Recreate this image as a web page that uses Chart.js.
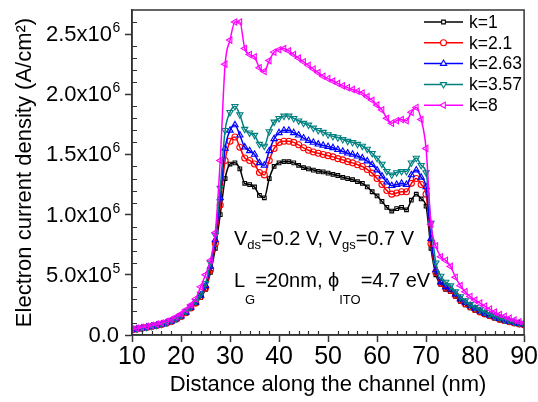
<!DOCTYPE html>
<html>
<head>
<meta charset="utf-8">
<script src="https://cdn.jsdelivr.net/npm/chart.js@4.4.0/dist/chart.umd.min.js"></script>
<style>
body { margin: 0; background: #fff; }
</style>
</head>
<body>
<canvas id="chart" width="538" height="402"></canvas>
<script>
// distance along the channel (nm)
const distance = [10, 11, 12, 13, 14, 15, 16, 17, 18, 19, 20, 21, 22, 23, 24, 25, 26, 27, 28, 29,
    30, 31, 32, 33, 34, 35, 36, 37, 38, 39, 40, 41, 42, 43, 44, 45, 46, 47, 48, 49,
    50, 51, 52, 53, 54, 55, 56, 57, 58, 59, 60, 61, 62, 63, 64, 65, 66, 67, 68, 69,
    70, 71, 72, 73, 74, 75, 76, 77, 78, 79, 80, 81, 82, 83, 84, 85, 86, 87, 88, 89, 90]

// electron current density, in units of 10^6 A/cm^2
const k1 = [0.04, 0.047, 0.054, 0.061, 0.068, 0.076, 0.085, 0.096, 0.11, 0.128, 0.15, 0.18, 0.22, 0.26, 0.31, 0.38, 0.52, 0.72, 1.0,
    1.30, 1.42, 1.43, 1.38, 1.26, 1.25, 1.23, 1.16, 1.14, 1.30, 1.40, 1.43, 1.44, 1.44, 1.43, 1.41, 1.39, 1.38, 1.37, 1.36, 1.355,
    1.345, 1.335, 1.325, 1.31, 1.30, 1.29, 1.275, 1.26, 1.23, 1.19, 1.155, 1.11, 1.06, 1.03, 1.05, 1.06, 1.04, 1.12, 1.17, 1.13, 1.07,
    0.72, 0.50, 0.42, 0.38, 0.36, 0.32, 0.28, 0.25, 0.225, 0.205, 0.185, 0.17, 0.155, 0.14, 0.125, 0.115, 0.105, 0.095, 0.088, 0.08]
const k21 = [0.042, 0.049, 0.056, 0.063, 0.07, 0.078, 0.087, 0.098, 0.112, 0.131, 0.154, 0.185, 0.225, 0.265, 0.32, 0.39, 0.54, 0.76, 1.08,
    1.45, 1.61, 1.645, 1.56, 1.47, 1.45, 1.42, 1.35, 1.33, 1.45, 1.55, 1.60, 1.61, 1.61, 1.60, 1.58, 1.555, 1.535, 1.52, 1.51, 1.50,
    1.49, 1.48, 1.465, 1.455, 1.44, 1.43, 1.415, 1.40, 1.375, 1.345, 1.30, 1.25, 1.20, 1.17, 1.18, 1.19, 1.19, 1.26, 1.30, 1.25, 1.17,
    0.76, 0.52, 0.43, 0.39, 0.37, 0.33, 0.29, 0.26, 0.235, 0.212, 0.192, 0.175, 0.16, 0.145, 0.13, 0.12, 0.11, 0.10, 0.092, 0.085]
const k263 = [0.043, 0.05, 0.057, 0.064, 0.071, 0.079, 0.088, 0.10, 0.114, 0.133, 0.157, 0.188, 0.23, 0.27, 0.33, 0.41, 0.57, 0.79, 1.14,
    1.55, 1.70, 1.745, 1.66, 1.56, 1.53, 1.50, 1.43, 1.41, 1.53, 1.63, 1.68, 1.70, 1.70, 1.68, 1.66, 1.635, 1.615, 1.60, 1.585, 1.575,
    1.565, 1.555, 1.54, 1.525, 1.51, 1.50, 1.485, 1.47, 1.445, 1.415, 1.37, 1.32, 1.27, 1.24, 1.25, 1.26, 1.25, 1.33, 1.37, 1.31, 1.23,
    0.80, 0.54, 0.44, 0.40, 0.38, 0.34, 0.30, 0.27, 0.245, 0.22, 0.20, 0.18, 0.165, 0.15, 0.135, 0.123, 0.113, 0.103, 0.095, 0.088]
const k357 = [0.045, 0.052, 0.059, 0.066, 0.073, 0.082, 0.091, 0.103, 0.118, 0.137, 0.162, 0.195, 0.235, 0.28, 0.34, 0.43, 0.60, 0.83, 1.22,
    1.70, 1.85, 1.90, 1.83, 1.71, 1.68, 1.66, 1.585, 1.57, 1.69, 1.77, 1.80, 1.82, 1.82, 1.80, 1.78, 1.76, 1.745, 1.72, 1.70, 1.685,
    1.665, 1.65, 1.64, 1.625, 1.61, 1.60, 1.585, 1.57, 1.545, 1.51, 1.47, 1.42, 1.36, 1.33, 1.35, 1.36, 1.36, 1.43, 1.47, 1.41, 1.35,
    0.93, 0.60, 0.49, 0.44, 0.41, 0.36, 0.32, 0.285, 0.255, 0.23, 0.21, 0.19, 0.172, 0.155, 0.14, 0.128, 0.117, 0.107, 0.098, 0.09]
const k8 = [0.05, 0.057, 0.064, 0.072, 0.08, 0.09, 0.10, 0.113, 0.13, 0.15, 0.175, 0.21, 0.25, 0.30, 0.40, 0.50, 0.62, 0.85, 1.45,
    2.25, 2.45, 2.60, 2.60, 2.38, 2.33, 2.31, 2.22, 2.19, 2.28, 2.35, 2.37, 2.38, 2.36, 2.33, 2.30, 2.27, 2.24, 2.21, 2.18, 2.15,
    2.13, 2.11, 2.09, 2.07, 2.055, 2.04, 2.025, 2.01, 1.98, 1.95, 1.91, 1.87, 1.80, 1.76, 1.78, 1.79, 1.78, 1.85, 1.89, 1.79, 1.55,
    0.92, 0.74, 0.65, 0.62, 0.57, 0.48, 0.41, 0.36, 0.32, 0.29, 0.265, 0.24, 0.215, 0.19, 0.17, 0.155, 0.14, 0.125, 0.11, 0.10]

const seriesNames = ['k=1', 'k=2.1', 'k=2.63', 'k=3.57', 'k=8']
const seriesData = [k1, k21, k263, k357, k8]
const colors = ['#000000', '#ff0000', '#0000ff', '#008080', '#ff00ff']
const markers = ['rect', 'circle', 'triangle', 'triangle', 'triangle']
const markerRotation = [0, 0, 0, 180, 270]
const markerRadius = [2.6, 3, 3.6, 3.6, 3.6]

const xTicks = [10, 20, 30, 40, 50, 60, 70, 80, 90]
const yTicks = [0, 0.5, 1.0, 1.5, 2.0, 2.5]
const yTickText = ['0.0', '5.0x10', '1.0x10', '1.5x10', '2.0x10', '2.5x10']
const yTickExp = ['', '5', '6', '6', '6', '6']

const font = '"Liberation Sans", Arial, sans-serif'
const axisColor = '#333'

const datasets = seriesData.map((values, i) => ({
    label: seriesNames[i],
    data: values.map((v, j) => ({ x: distance[j], y: v })),
    borderColor: colors[i],
    backgroundColor: '#ffffff',
    borderWidth: 1.5,
    pointStyle: markers[i],
    rotation: markerRotation[i],
    pointRadius: markerRadius[i],
    pointBorderWidth: 1.1,
    pointBorderColor: colors[i],
    pointBackgroundColor: 'rgba(255,255,255,0)',
    tension: 0.4,
    cubicInterpolationMode: 'monotone',
    order: 5 - i
}))

const drawRuns = (ctx, runs, x, y) => {
    runs.forEach(run => {
        ctx.font = run.sub ? '13px ' + font : '20px ' + font
        ctx.fillText(run.t, x, y + (run.sub || 0))
        x += ctx.measureText(run.t).width
    })
}

const extras = {
    id: 'extras',
    afterDraw (chart) {
        const { ctx, chartArea: a, scales: { x, y } } = chart
        ctx.save()
        ctx.strokeStyle = axisColor
        ctx.lineWidth = 1.5
        ctx.strokeRect(a.left, a.top, a.right - a.left, a.bottom - a.top)

        // minor ticks, inward
        ctx.lineWidth = 1.2
        ctx.beginPath()
        for (let v = 12; v < 90; v += 2) {
            if (v % 10 === 0) continue
            const px = Math.round(x.getPixelForValue(v)) + 0.5
            ctx.moveTo(px, a.bottom)
            ctx.lineTo(px, a.bottom - 4)
        }
        for (let v = 1; v < 27; v++) {
            if (v % 5 === 0) continue
            const py = Math.round(y.getPixelForValue(v / 10)) + 0.5
            ctx.moveTo(a.left, py)
            ctx.lineTo(a.left + 5, py)
        }
        ctx.stroke()

        // y tick labels with exponents
        ctx.fillStyle = '#000'
        ctx.textBaseline = 'alphabetic'
        yTicks.forEach((v, i) => {
            const py = y.getPixelForValue(v)
            if (yTickExp[i]) {
                ctx.font = '22px ' + font
                ctx.textAlign = 'right'
                ctx.fillText(yTickText[i], 112, py + 7)
                ctx.font = '14px ' + font
                ctx.textAlign = 'left'
                ctx.fillText(yTickExp[i], 112.5, py - 2)
            } else {
                ctx.font = '22px ' + font
                ctx.textAlign = 'right'
                ctx.fillText(yTickText[i], 119, py + 7)
            }
        })

        // legend
        ctx.textAlign = 'left'
        ctx.textBaseline = 'middle'
        chart.data.datasets.forEach((ds, i) => {
            const ly = 22 + i * 20.8
            ctx.strokeStyle = ds.borderColor
            ctx.lineWidth = 1.5
            ctx.beginPath()
            ctx.moveTo(424, ly)
            ctx.lineTo(463, ly)
            ctx.stroke()
            ctx.fillStyle = '#fff'
            ctx.lineWidth = 1.1
            Chart.helpers.drawPoint(ctx, {
                pointStyle: ds.pointStyle, radius: ds.pointRadius, rotation: ds.rotation, borderWidth: 1.1
            }, 443.5, ly)
            ctx.fillStyle = '#000'
            ctx.font = '17.5px ' + font
            ctx.fillText(ds.label, 469, ly + 1)
        })

        // bias / geometry notes, placed in data units
        ctx.textBaseline = 'alphabetic'
        ctx.fillStyle = '#000'
        const tx = x.getPixelForValue(30.8)
        drawRuns(ctx, [{ t: 'V' }, { t: 'ds', sub: 4 }, { t: '=0.2 V, V' }, { t: 'gs', sub: 4 }, { t: '=0.7 V' }],
            tx, y.getPixelForValue(0.75))
        drawRuns(ctx, [{ t: 'L' }, { t: 'G', sub: 17 }, { t: '=20nm, ' }, { t: 'ϕ' }, { t: 'ITO', sub: 17 }, { t: '=4.7 eV' }],
            tx, y.getPixelForValue(0.4))
        ctx.restore()
    }
}

const crt = document.getElementById('chart')

new Chart(crt, {
    type: 'line',
    data: { datasets },
    options: {
        responsive: false,
        animation: false,
        layout: { padding: { left: 0, top: 10, right: 13, bottom: 0 } },
        plugins: { legend: { display: false }, tooltip: { enabled: false } },
        scales: {
            x: {
                type: 'linear',
                min: 10,
                max: 90,
                afterFit: (scale) => { scale.height = 67 },
                afterBuildTicks: (scale) => { scale.ticks = xTicks.map(v => ({ value: v })) },
                ticks: {
                    color: '#000',
                    padding: 0,
                    font: { family: '"Liberation Sans Narrow", "Liberation Sans", Arial', size: 25 }
                },
                grid: { drawOnChartArea: false, tickLength: 7, tickColor: axisColor, tickWidth: 1.5 },
                border: { color: axisColor, width: 1.5 },
                title: {
                    display: true,
                    text: 'Distance along the channel (nm)',
                    color: '#000',
                    font: { family: font, size: 22 },
                    padding: { top: 0, bottom: 4 }
                }
            },
            y: {
                type: 'linear',
                min: 0,
                max: 2.7,
                afterFit: (scale) => { scale.width = 132 },
                afterBuildTicks: (scale) => { scale.ticks = yTicks.map(v => ({ value: v })) },
                ticks: { display: false },
                grid: { drawOnChartArea: false, tickLength: 7, tickColor: axisColor, tickWidth: 1.5 },
                border: { color: axisColor, width: 1.5 },
                title: {
                    display: true,
                    text: 'Electron current density (A/cm²)',
                    color: '#000',
                    font: { family: font, size: 22 },
                    padding: { top: 12, bottom: 0 }
                }
            }
        }
    },
    plugins: [extras]
})
</script>
</body>
</html>
